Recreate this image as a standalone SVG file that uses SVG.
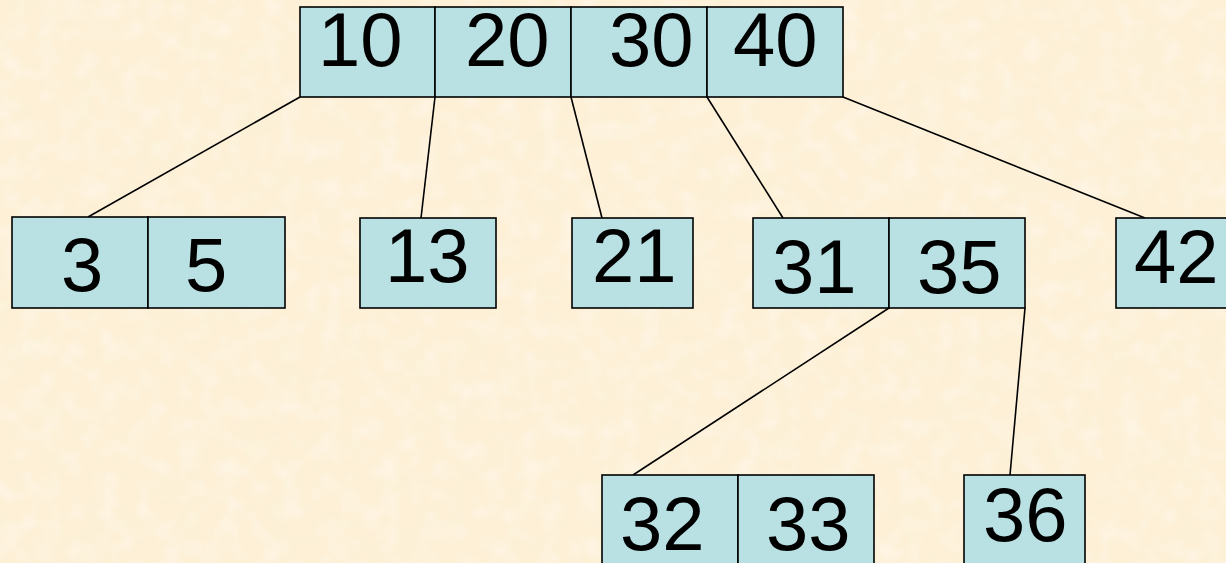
<svg xmlns="http://www.w3.org/2000/svg" width="1226" height="563" viewBox="0 0 1226 563">
  <defs>
    <filter id="parch" x="0" y="0" width="100%" height="100%">
      <feTurbulence type="fractalNoise" baseFrequency="0.03" numOctaves="3" seed="7" result="n"/>
      <feColorMatrix in="n" type="matrix" values="0 0 0 0 0.96  0 0 0 0 0.89  0 0 0 0 0.66  0 0 0 1.8 -0.8" result="c"/>
      <feComposite in="c" in2="SourceGraphic" operator="in"/>
    </filter>
    <filter id="parch2" x="0" y="0" width="100%" height="100%">
      <feTurbulence type="fractalNoise" baseFrequency="0.05" numOctaves="2" seed="21" result="n"/>
      <feColorMatrix in="n" type="matrix" values="0 0 0 0 1  0 0 0 0 0.97  0 0 0 0 0.92  0 0 0 1.8 -0.8" result="c"/>
      <feComposite in="c" in2="SourceGraphic" operator="in"/>
    </filter>
    <style>
      .cell { fill: #B9E0E2; stroke: #000; stroke-width: 1.6; }
      .num { font-family: "Liberation Sans", Arial, sans-serif; font-size: 76px; fill: #000; }
      .edge { stroke: #000; stroke-width: 1.6; fill: none; }
    </style>
  </defs>
  <rect x="0" y="0" width="1226" height="563" fill="#FDF0D7"/>
  <rect x="0" y="0" width="1226" height="563" fill="#fff" filter="url(#parch)" opacity="0.55"/>
  <rect x="0" y="0" width="1226" height="563" fill="#fff" filter="url(#parch2)" opacity="0.5"/>

  <g id="connectors">
    <line class="edge" x1="300" y1="97" x2="88" y2="217"/>
    <line class="edge" x1="435" y1="97" x2="421" y2="218"/>
    <line class="edge" x1="571" y1="97" x2="602" y2="218"/>
    <line class="edge" x1="707" y1="97" x2="783" y2="218"/>
    <line class="edge" x1="843" y1="97" x2="1145" y2="218"/>
    <line class="edge" x1="889" y1="308" x2="633" y2="475"/>
    <line class="edge" x1="1025" y1="308" x2="1010" y2="475"/>
  </g>

  <g id="node-root">
    <rect class="cell" x="300" y="7" width="135" height="90"/>
    <rect class="cell" x="435" y="7" width="136" height="90"/>
    <rect class="cell" x="571" y="7" width="136" height="90"/>
    <rect class="cell" x="707" y="7" width="136" height="90"/>
    <text class="num" x="318" y="66">10</text>
    <text class="num" x="465" y="66">20</text>
    <text class="num" x="609" y="66">30</text>
    <text class="num" x="733" y="66">40</text>
  </g>

  <g id="node-3-5">
    <rect class="cell" x="12" y="217" width="136" height="91"/>
    <rect class="cell" x="148" y="217" width="137" height="91"/>
    <text class="num" x="61" y="291">3</text>
    <text class="num" x="185" y="291">5</text>
  </g>

  <g id="node-13">
    <rect class="cell" x="360" y="218" width="136" height="90"/>
    <text class="num" x="385" y="282">13</text>
  </g>

  <g id="node-21">
    <rect class="cell" x="572" y="218" width="121" height="90"/>
    <text class="num" x="592" y="282">21</text>
  </g>

  <g id="node-31-35">
    <rect class="cell" x="753" y="218" width="136" height="90"/>
    <rect class="cell" x="889" y="218" width="136" height="90"/>
    <text class="num" x="772" y="293">31</text>
    <text class="num" x="917" y="293">35</text>
  </g>

  <g id="node-42">
    <rect class="cell" x="1116" y="218" width="130" height="90"/>
    <text class="num" x="1134" y="283">42</text>
  </g>

  <g id="node-32-33">
    <rect class="cell" x="602" y="475" width="136" height="100"/>
    <rect class="cell" x="738" y="475" width="136" height="100"/>
    <text class="num" x="620" y="550">32</text>
    <text class="num" x="766" y="550">33</text>
  </g>

  <g id="node-36">
    <rect class="cell" x="964" y="475" width="121" height="100"/>
    <text class="num" x="983" y="541">36</text>
  </g>
</svg>
